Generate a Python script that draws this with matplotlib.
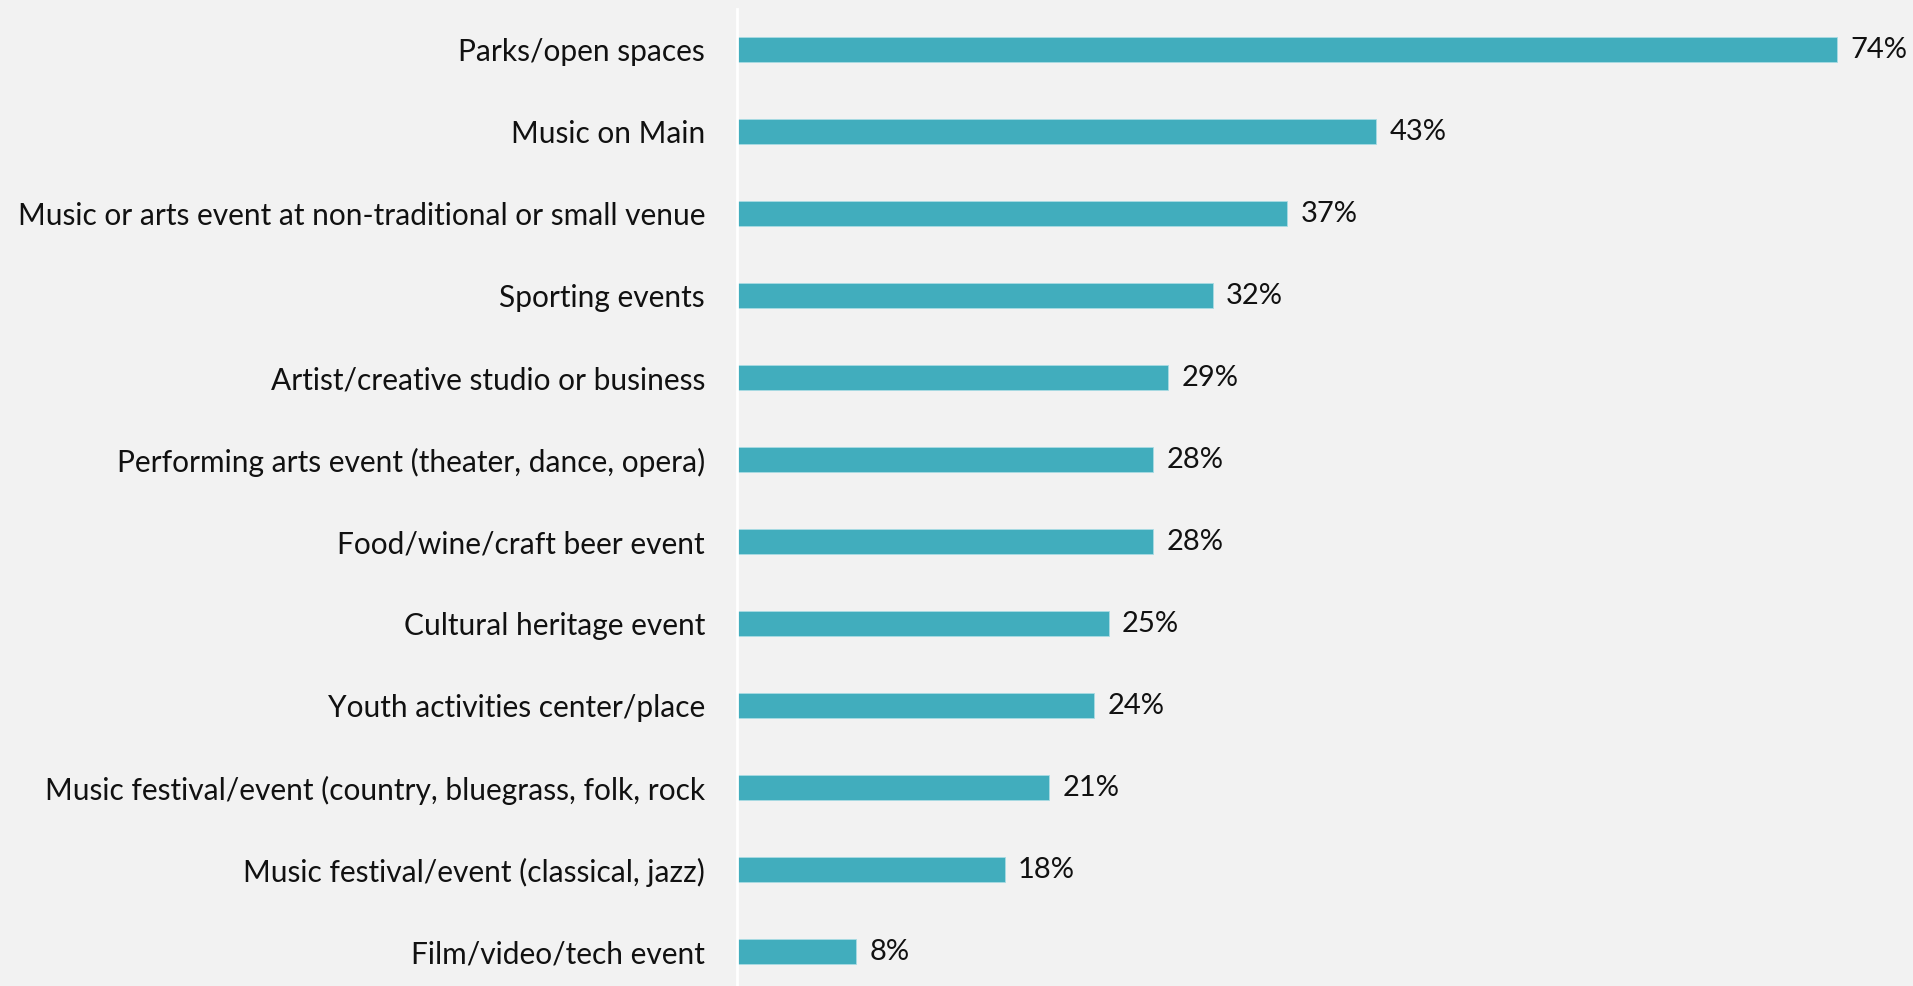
import matplotlib.pyplot as plt

categories = [
    "Parks/open spaces",
    "Music on Main",
    "Music or arts event at non-traditional or small venue",
    "Sporting events",
    "Artist/creative studio or business",
    "Performing arts event (theater, dance, opera)",
    "Food/wine/craft beer event",
    "Cultural heritage event",
    "Youth activities center/place",
    "Music festival/event (country, bluegrass, folk, rock",
    "Music festival/event (classical, jazz)",
    "Film/video/tech event",
]
values = [74, 43, 37, 32, 29, 28, 28, 25, 24, 21, 18, 8]
value_labels = [f"{v}%" for v in values]

bg = "#f2f2f2"
bar_color = "#41adbd"

plt.rcParams["font.family"] = ["Lato", "DejaVu Sans"]

W, H = 1913, 986
fig = plt.figure(figsize=(W / 100, H / 100), dpi=100, facecolor=bg)
ax = fig.add_axes([737 / W, (H - 992.5) / H, (W - 737) / W, 984 / H])
ax.set_facecolor(bg)

y = list(range(len(categories)))
ax.barh(y, values, height=0.305, color=bar_color, edgecolor="#a9dbe3", linewidth=0.6)
for yi, v, lab in zip(y, values, value_labels):
    ax.text(v + 0.9, yi, lab, va="center", ha="left", fontsize=21, color="#111111")

ax.set_ylim(len(categories) - 0.5, -0.5)
ax.set_xlim(0, 79.1)
ax.set_yticks(y)
ax.set_yticklabels(categories, fontsize=21.5, color="#111111")
ax.tick_params(axis="y", length=0, pad=23)
ax.set_xticks([])

for side in ("top", "right", "bottom"):
    ax.spines[side].set_visible(False)
ax.spines["left"].set_color("white")
ax.spines["left"].set_linewidth(2)

fig.savefig("out.png", dpi=100, facecolor=bg)
